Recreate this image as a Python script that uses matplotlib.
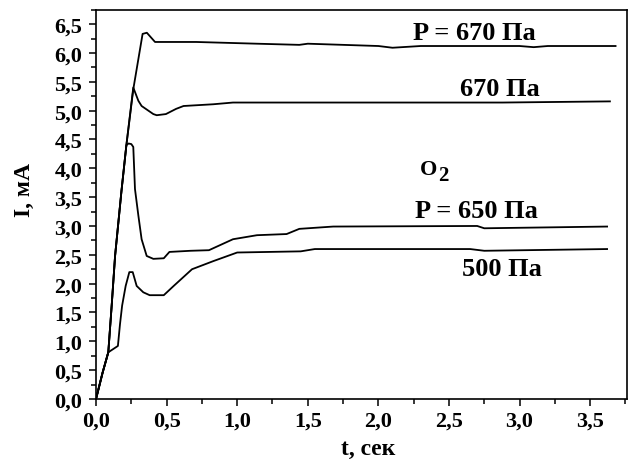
import matplotlib
matplotlib.use("Agg")
import matplotlib.pyplot as plt
from matplotlib.ticker import MultipleLocator, FuncFormatter

plt.rcParams['font.family'] = ['Liberation Serif', 'DejaVu Serif']
plt.rcParams['font.weight'] = 'bold'

# Curve data (t in s, I in mA)
t_670a = [0.0, 0.047, 0.087, 0.111, 0.135, 0.18, 0.215, 0.264, 0.33, 0.36, 0.418,
          0.71, 1.14, 1.44, 1.5, 2.0, 2.1, 2.3, 3.0, 3.1, 3.2, 3.68]
i_670a = [0.0, 0.46, 0.81, 1.62, 2.48, 3.6, 4.4, 5.37, 6.33, 6.35, 6.19,
          6.19, 6.16, 6.14, 6.16, 6.12, 6.09, 6.12, 6.12, 6.1, 6.12, 6.12]

t_670b = [0.0, 0.047, 0.087, 0.111, 0.135, 0.18, 0.215, 0.264, 0.30, 0.323, 0.406,
          0.43, 0.495, 0.567, 0.62, 0.83, 0.97, 1.59, 2.88, 3.64]
i_670b = [0.0, 0.46, 0.81, 1.62, 2.48, 3.6, 4.4, 5.4, 5.17, 5.08, 4.94,
          4.92, 4.94, 5.03, 5.08, 5.11, 5.14, 5.14, 5.14, 5.16]

t_650 = [0.0, 0.047, 0.087, 0.111, 0.135, 0.18, 0.215, 0.23, 0.25, 0.264, 0.276, 0.30,
         0.323, 0.359, 0.406, 0.48, 0.52, 0.67, 0.80, 0.97, 1.14, 1.35, 1.44, 1.68, 2.7, 2.75, 3.62]
i_650 = [0.0, 0.46, 0.81, 1.62, 2.48, 3.6, 4.4, 4.43, 4.42, 4.37, 3.64, 3.18,
         2.77, 2.48, 2.43, 2.44, 2.55, 2.57, 2.58, 2.77, 2.84, 2.86, 2.95, 2.99, 3.0, 2.96, 2.99]

t_500 = [0.0, 0.047, 0.087, 0.155, 0.17, 0.185, 0.21, 0.236, 0.26, 0.288, 0.335, 0.38, 0.48,
         0.55, 0.68, 0.83, 1.0, 1.45, 1.55, 2.65, 2.75, 3.62]
i_500 = [0.0, 0.46, 0.81, 0.92, 1.3, 1.62, 1.96, 2.2, 2.2, 1.96, 1.85, 1.8, 1.8,
         1.96, 2.25, 2.39, 2.54, 2.56, 2.6, 2.6, 2.57, 2.6]

x_ticks = [0.0, 0.5, 1.0, 1.5, 2.0, 2.5, 3.0, 3.5]
y_ticks = [0.0, 0.5, 1.0, 1.5, 2.0, 2.5, 3.0, 3.5, 4.0, 4.5, 5.0, 5.5, 6.0, 6.5]

fig = plt.figure(figsize=(6.3, 4.64), dpi=100)
ax = fig.add_axes([0.1524, 0.1379, 0.8426, 0.8391])

for t, i in [(t_670a, i_670a), (t_670b, i_670b), (t_650, i_650), (t_500, i_500)]:
    ax.plot(t, i, color='black', lw=1.3)

ax.set_xlim(0, 3.76)
ax.set_ylim(0, 6.75)
ax.set_xticks(x_ticks)
ax.set_yticks(y_ticks)
ax.xaxis.set_minor_locator(MultipleLocator(0.25))
ax.yaxis.set_minor_locator(MultipleLocator(0.25))
fmt = FuncFormatter(lambda v, p: f"{v:.1f}".replace('.', ','))
ax.xaxis.set_major_formatter(fmt)
ax.yaxis.set_major_formatter(fmt)
ax.tick_params(which='major', direction='out', length=5, width=1.1, labelsize=16, pad=3)
ax.tick_params(which='minor', direction='out', length=3.5, width=1.1)
ax.tick_params(axis='y', which='major', pad=5)
for s in ax.spines.values():
    s.set_linewidth(1.2)

ax.set_xlabel('t, сек', fontsize=17, fontweight='bold')
ax.xaxis.set_label_coords(0.512, -0.10)
ax.set_ylabel('I, мА', fontsize=17, fontweight='bold')
ax.yaxis.set_label_coords(-0.115, 0.54)

kw = dict(fontsize=19, fontweight='bold', va='center', ha='left')
ax.text(2.245, 6.36, 'P = 670 Па', **kw)
ax.text(2.578, 5.39, '670 Па', **kw)
ax.text(2.26, 3.27, 'P = 650 Па', **kw)
ax.text(2.59, 2.27, '500 Па', **kw)
ax.text(2.295, 3.99, 'O', fontsize=16, fontweight='bold', va='center', ha='left')
ax.text(2.425, 3.89, '2', fontsize=15, fontweight='bold', va='center', ha='left')

fig.savefig('out.png', dpi=100, facecolor='white')
